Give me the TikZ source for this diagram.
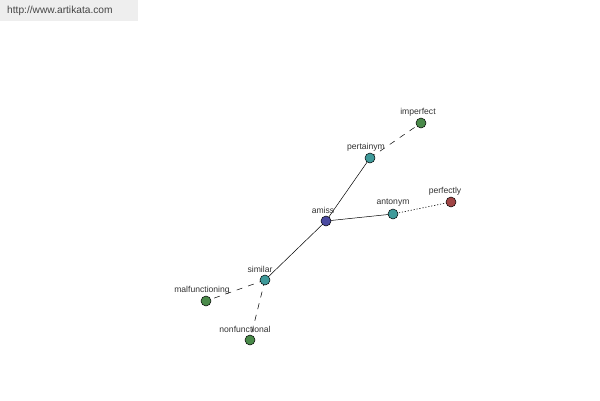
\documentclass[tikz,border=0pt]{standalone}
\usepackage{fontspec}
\setmainfont{Liberation Sans}
\definecolor{cblue}{HTML}{4A4AA0}
\definecolor{cteal}{HTML}{3F9A9A}
\definecolor{cgreen}{HTML}{4A8A4A}
\definecolor{cred}{HTML}{A04545}
\definecolor{hdrbg}{HTML}{EEEEEE}
\definecolor{hdrtx}{HTML}{444444}
\definecolor{lbl}{HTML}{333333}
\begin{document}
\begin{tikzpicture}[x=1pt,y=-1pt,
  dot/.style={circle,draw=black,line width=0.5pt,minimum size=10pt,inner sep=0pt},
  lab/.style={font=\fontsize{8.6}{9}\selectfont,text=lbl,inner sep=0pt},
  edge/.style={line width=0.5pt},
  dsh/.style={line width=0.5pt,dash pattern=on 6pt off 6pt},
  dtt/.style={line width=0.6pt,dash pattern=on 1.2pt off 1.8pt}]
\useasboundingbox (0,0) rectangle (600,400);
\fill[hdrbg] (0,0) rectangle (138,21);
\node[anchor=west,inner sep=0pt,font=\fontsize{10.2}{11}\selectfont,text=hdrtx] (hdr) at (7,11) {http://www.artikata.com};
% edges first
\coordinate (pA) at (326,221);
\coordinate (pP) at (370,158);
\coordinate (pI) at (421,123);
\coordinate (pN) at (393,214);
\coordinate (pF) at (451,202);
\coordinate (pS) at (265,280);
\coordinate (pM) at (206,301);
\coordinate (pO) at (250,340);
\draw[edge] (pA) -- (pP);
\draw[edge] (pA) -- (pN);
\draw[edge] (pA) -- (pS);
\draw[dsh] (pP) -- (pI);
\draw[dtt] (pN) -- (pF);
\draw[dsh] (pS) -- (pM);
\draw[dsh] (pS) -- (pO);
% nodes
\node[dot,fill=cblue] (amiss) at (pA) {};
\node[dot,fill=cteal] (pert) at (pP) {};
\node[dot,fill=cgreen] (imp) at (pI) {};
\node[dot,fill=cteal] (ant) at (pN) {};
\node[dot,fill=cred] (perf) at (pF) {};
\node[dot,fill=cteal] (sim) at (pS) {};
\node[dot,fill=cgreen] (mal) at (pM) {};
\node[dot,fill=cgreen] (non) at (pO) {};
% labels
\node[lab] (lA) at (323,210) {amiss};
\node[lab] (lP) at (366,147) {pertainym};
\node[lab] (lI) at (418,112) {imperfect};
\node[lab] (lN) at (393,203) {antonym};
\node[lab] (lF) at (445,191) {perfectly};
\node[lab] (lS) at (260,269) {similar};
\node[lab] (lM) at (202,290) {malfunctioning};
\node[lab] (lO) at (245,329) {nonfunctional};
\end{tikzpicture}
\end{document}
